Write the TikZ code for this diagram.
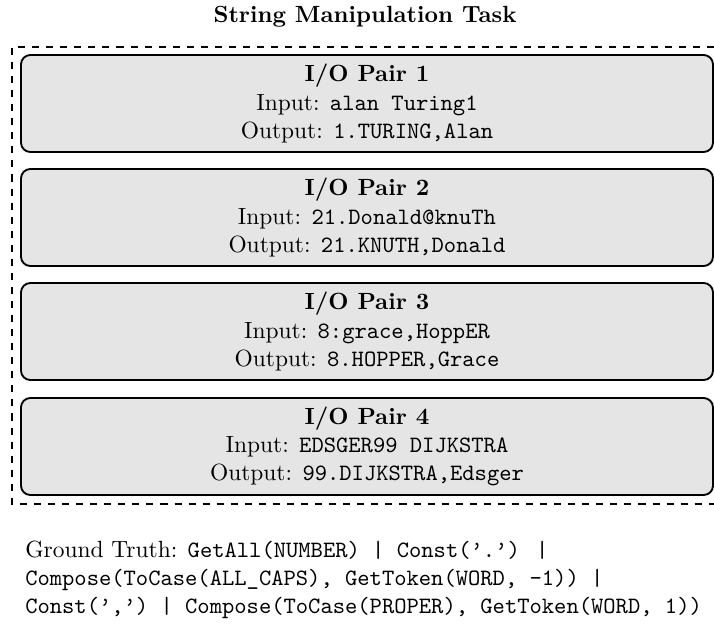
\documentclass[tikz,border=0pt]{standalone}
\usepackage{tikz}

\begin{document}
\begin{tikzpicture}[x=0.015cm,y=-0.015cm,
    iobox/.style={draw,thick,rounded corners=4pt,fill=gray!20,
                  minimum width=10.38cm,minimum height=1.455cm,align=center},
    taskframe/.style={thick,dashed}]
  \useasboundingbox (0,0) rectangle (714,627);

  % title ----------------------------------------------------------------------
  \node (title) at (365,17) {\textbf{String Manipulation Task}};

  % dashed frame (runs off the right edge) -------------------------------------
  \draw[taskframe] (714,47) -- (12,47) -- (12,504) -- (714,504);

  %----------------------------------------------------------------------------%
  %  pair 1  ------------------------------------------------------------------%
  \node[iobox] (pair1) at (367,103.5)
        {\textbf{I/O Pair 1}\\
         Input: \texttt{alan Turing1}\\
         Output: \texttt{1.TURING,Alan}};

  %----------------------------------------------------------------------------%
  %  pair 2  ------------------------------------------------------------------%
  \node[iobox] (pair2) at (367,217.5)
        {\textbf{I/O Pair 2}\\
         Input: \texttt{21.Donald@knuTh}\\
         Output: \texttt{21.KNUTH,Donald}};

  %----------------------------------------------------------------------------%
  %  pair 3  ------------------------------------------------------------------%
  \node[iobox] (pair3) at (367,331.5)
        {\textbf{I/O Pair 3}\\
         Input: \texttt{8:grace,HoppER}\\
         Output: \texttt{8.HOPPER,Grace}};

  %----------------------------------------------------------------------------%
  %  pair 4  ------------------------------------------------------------------%
  \node[iobox] (pair4) at (367,446.5)
        {\textbf{I/O Pair 4}\\
         Input: \texttt{EDSGER99 DIJKSTRA}\\
         Output: \texttt{99.DIJKSTRA,Edsger}};

  % ground truth program -------------------------------------------------------
  \node[anchor=west,align=left] (truth) at (17,580)
        {Ground Truth: \texttt{GetAll(NUMBER) | Const(\textquoteright.\textquoteright) |}\\
         \texttt{Compose(ToCase(ALL\_CAPS), GetToken(WORD, -1)) |}\\
         \texttt{Const(\textquoteright,\textquoteright) | Compose(ToCase(PROPER), GetToken(WORD, 1))}};
\end{tikzpicture}
\end{document}
